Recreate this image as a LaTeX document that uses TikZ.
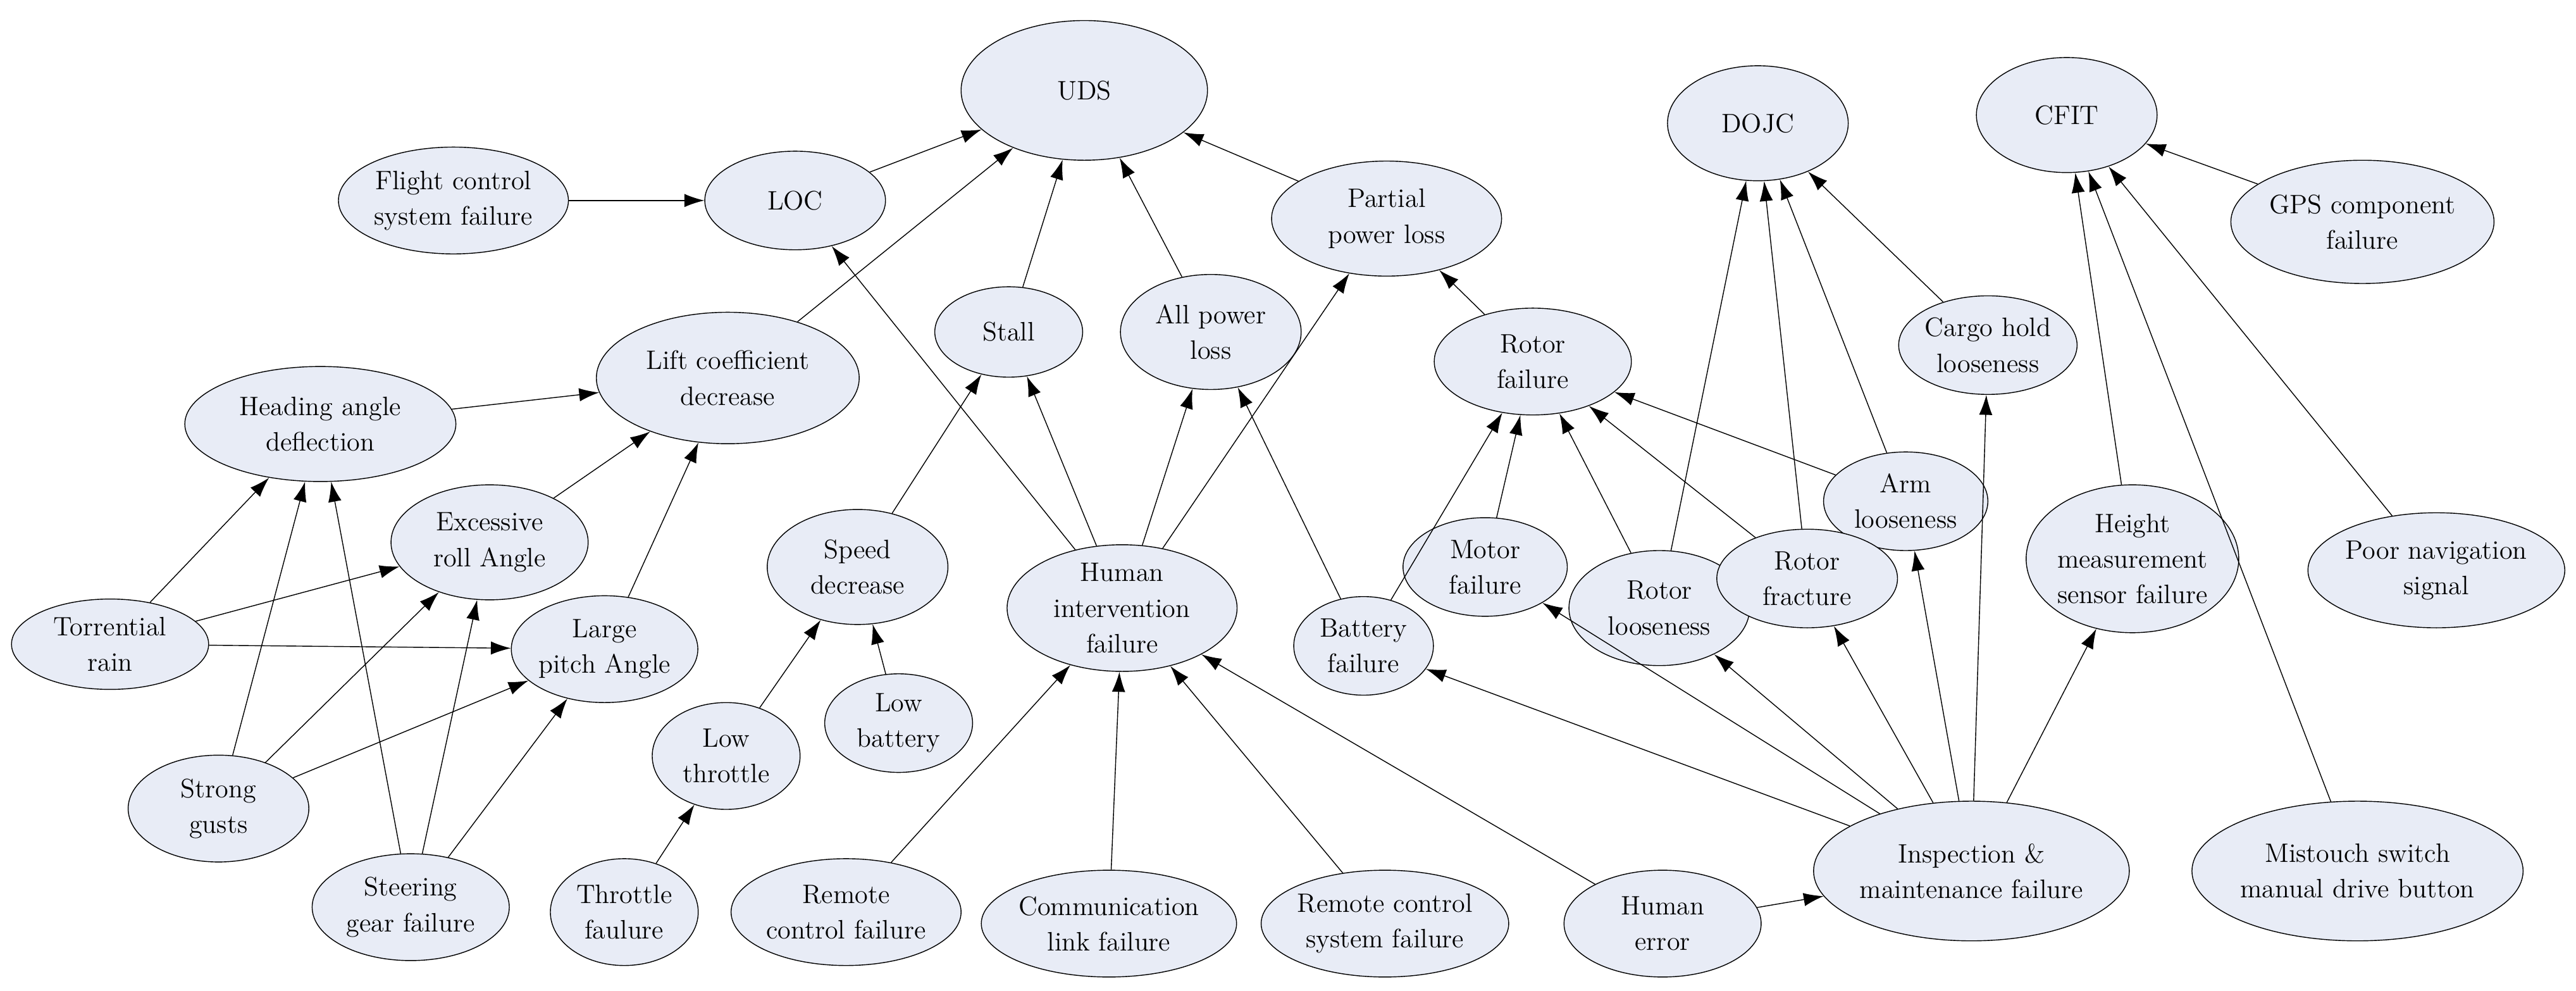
\documentclass[tikz,border=0pt]{standalone}
\usetikzlibrary{arrows.meta,shapes.geometric}
\definecolor{evfill}{RGB}{232,236,246}
\begin{document}
\begin{tikzpicture}[x=0.026cm,y=-0.026cm,
  ev/.style 2 args={ellipse, draw, fill=evfill, align=center, inner sep=0pt, minimum width=#1*0.026cm, minimum height=#2*0.026cm, font=\fontsize{12}{16}\selectfont},
  link/.style={-{Latex[length=9pt,width=6pt]}, thin}]
	\useasboundingbox (0,0) rectangle (1568,603);
	% nodes
	\node[ev={150}{85}] (uds) at (660,55) {UDS};
	\node[ev={110}{70}] (dojc) at (1070,75) {DOJC};
	\node[ev={110}{70}] (cfit) at (1258,70) {CFIT};
	\node[ev={110}{60}] (loc) at (484,122) {LOC};
	\node[ev={140}{65}] (fcs) at (276,122) {Flight control\\system failure};
	\node[ev={140}{70}] (ppl) at (844,133) {Partial\\power loss};
	\node[ev={120}{75}] (gps) at (1438,135) {GPS component\\failure};
	\node[ev={90}{55}] (stall) at (614,202) {Stall};
	\node[ev={110}{70}] (apl) at (737,202) {All power\\loss};
	\node[ev={160}{80}] (lift) at (443,230) {Lift coefficient\\decrease};
	\node[ev={120}{65}] (rotor) at (933,220) {Rotor\\failure};
	\node[ev={100}{60}] (cargo) at (1210,210) {Cargo hold\\looseness};
	\node[ev={165}{70}] (head) at (195,258) {Heading angle\\deflection};
	\node[ev={120}{70}] (roll) at (298,330) {Excessive\\roll Angle};
	\node[ev={100}{60}] (arm) at (1160,305) {Arm\\looseness};
	\node[ev={120}{90}] (height) at (1298,340) {Height\\measurement\\sensor failure};
	\node[ev={150}{70}] (nav) at (1483,347) {Poor navigation\\signal};
	\node[ev={110}{70}] (speed) at (522,345) {Speed\\decrease};
	\node[ev={140}{70}] (human) at (683,370) {Human\\intervention\\failure};
	\node[ev={100}{60}] (motor) at (904,345) {Motor\\failure};
	\node[ev={110}{70}] (rloose) at (1010,370) {Rotor\\looseness};
	\node[ev={110}{60}] (rfrac) at (1100,352) {Rotor\\fracture};
	\node[ev={85}{60}] (batt) at (830,393) {Battery\\failure};
	\node[ev={120}{55}] (rain) at (67,392) {Torrential\\rain};
	\node[ev={110}{65}] (pitch) at (368,395) {Large\\pitch Angle};
	\node[ev={90}{65}] (lowthr) at (442,460) {Low\\throttle};
	\node[ev={90}{60}] (lowbat) at (547,440) {Low\\battery};
	\node[ev={110}{65}] (gusts) at (133,492) {Strong\\gusts};
	\node[ev={180}{85}] (insp) at (1200,530) {Inspection \&\\maintenance failure};
	\node[ev={175}{85}] (mis) at (1435,530) {Mistouch switch\\manual drive button};
	\node[ev={120}{65}] (steer) at (250,552) {Steering\\gear failure};
	\node[ev={90}{65}] (thrf) at (380,555) {Throttle\\faulure};
	\node[ev={140}{65}] (rcf) at (515,555) {Remote\\control failure};
	\node[ev={150}{65}] (comm) at (675,562) {Communication\\link failure};
	\node[ev={150}{65}] (rcs) at (843,562) {Remote control\\system failure};
	\node[ev={120}{65}] (herr) at (1012,562) {Human\\error};

	% edges
	\draw[link] (fcs) -- (loc);
	\foreach \s in {loc,lift,stall,apl,ppl} \draw[link] (\s) -- (uds);
	\foreach \s in {head,roll,pitch} \draw[link] (\s) -- (lift);
	\foreach \s in {rain,gusts,steer} {
		\draw[link] (\s) -- (head);
		\draw[link] (\s) -- (roll);
		\draw[link] (\s) -- (pitch);
	}
	\draw[link] (speed) -- (stall);
	\draw[link] (lowthr) -- (speed);
	\draw[link] (lowbat) -- (speed);
	\draw[link] (thrf) -- (lowthr);
	\foreach \t in {loc,stall,apl,ppl} \draw[link] (human) -- (\t);
	\draw[link] (batt) -- (apl);
	\foreach \s in {rcf,comm,rcs,herr} \draw[link] (\s) -- (human);
	\draw[link] (herr) -- (insp);
	\draw[link] (rotor) -- (ppl);
	\foreach \s in {batt,motor,rloose,rfrac,arm} \draw[link] (\s) -- (rotor);
	\foreach \s in {rloose,rfrac,arm,cargo} \draw[link] (\s) -- (dojc);
	\foreach \s in {height,gps,nav,mis} \draw[link] (\s) -- (cfit);
	\foreach \t in {motor,batt,rloose,rfrac,arm,cargo,height} \draw[link] (insp) -- (\t);
\end{tikzpicture}
\end{document}
